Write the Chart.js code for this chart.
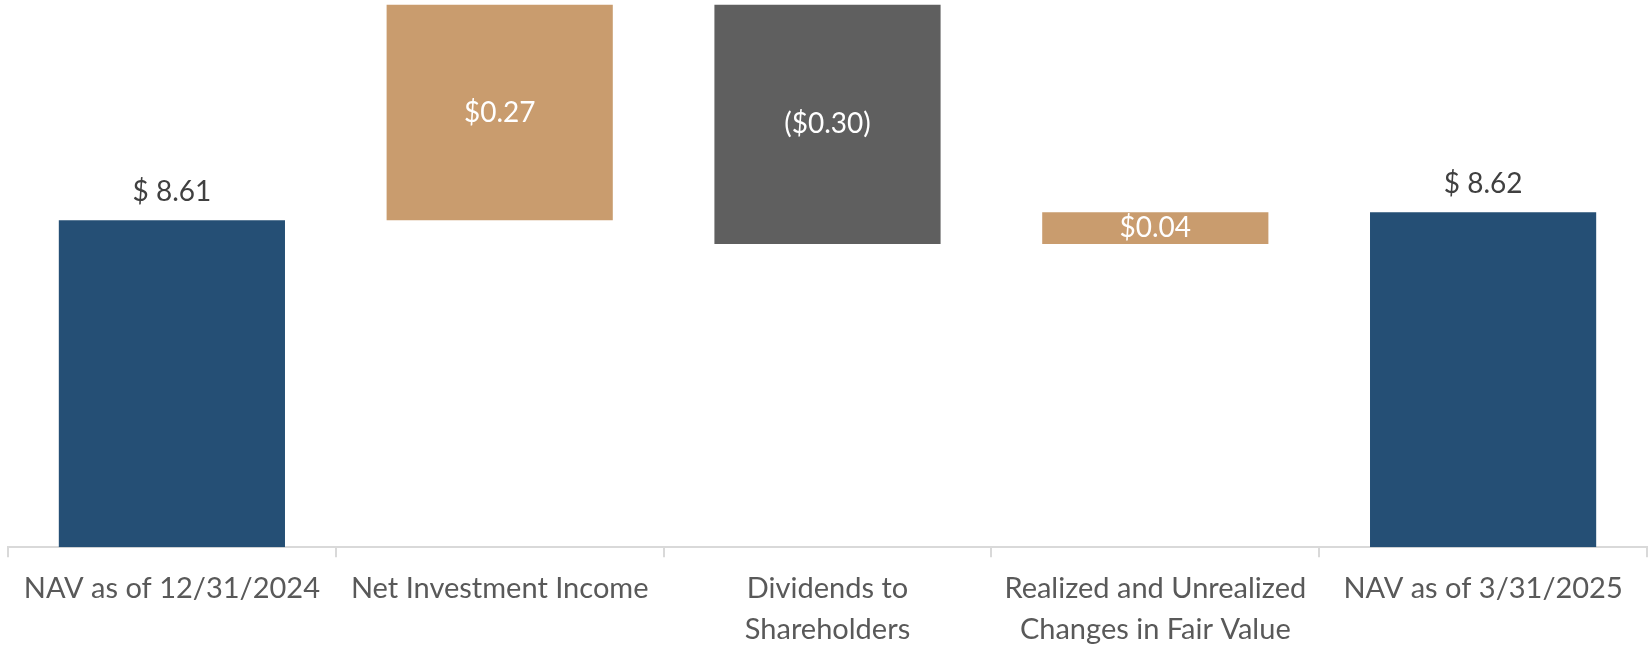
<!DOCTYPE html>
<html>
<head>
<meta charset="utf-8">
<title>NAV Bridge</title>
<script src="https://cdn.jsdelivr.net/npm/chart.js@4/dist/chart.umd.min.js"></script>
<style>
  html, body { margin: 0; padding: 0; background: #fff; }
  #wrap { width: 1652px; height: 648px; position: relative; }
</style>
</head>
<body>
<div id="wrap"><canvas id="nav"></canvas></div>
<script>
// NAV per share bridge, quarter ended 3/31/2025
const categories = [
  'NAV as of 12/31/2024',
  'Net Investment Income',
  ['Dividends to', 'Shareholders'],
  ['Realized and Unrealized', 'Changes in Fair Value'],
  'NAV as of 3/31/2025'
]
const startNav = 8.61
const changes = [0.27, -0.30, 0.04]
const endNav = 8.62
const axisMin = 8.20
const axisMax = 8.886

const BLUE = '#254f75'
const TAN = '#c99c6e'
const GRAY = '#5f5f5f'

// floating ranges: totals sit on the axis, changes float off the running total
const ranges = [[axisMin, startNav]]
const colors = [BLUE]
let running = startNav
changes.forEach(c => {
  const next = +(running + c).toFixed(2)
  ranges.push([Math.min(running, next), Math.max(running, next)])
  colors.push(c >= 0 ? TAN : GRAY)
  running = next
})
ranges.push([axisMin, endNav])
colors.push(BLUE)

const values = [startNav, ...changes, endNav]
const isTotal = [true, false, false, false, true]

function fmt(v, total) {
  if (total) return '$ ' + v.toFixed(2)
  return v < 0 ? '($' + Math.abs(v).toFixed(2) + ')' : '$' + v.toFixed(2)
}

const barLabels = {
  id: 'barLabels',
  afterDatasetsDraw(chart) {
    const ctx = chart.ctx
    const meta = chart.getDatasetMeta(0)
    ctx.save()
    ctx.font = '28px Lato'
    ctx.textAlign = 'center'
    ctx.textBaseline = 'middle'
    meta.data.forEach((bar, i) => {
      const text = fmt(values[i], isTotal[i])
      if (isTotal[i]) {
        ctx.fillStyle = '#404040'
        ctx.fillText(text, bar.x, bar.y - 28)
      } else {
        ctx.fillStyle = '#ffffff'
        ctx.fillText(text, bar.x, (bar.y + bar.base) / 2)
      }
    })
    ctx.restore()
  }
}

new Chart(document.getElementById('nav'), {
  type: 'bar',
  data: {
    labels: categories,
    datasets: [{
      data: ranges,
      backgroundColor: colors,
      borderWidth: 0,
      categoryPercentage: 1,
      barPercentage: 0.69
    }]
  },
  options: {
    responsive: true,
    maintainAspectRatio: false,
    animation: false,
    layout: { padding: { left: 8, right: 5, top: 0, bottom: -13 } },
    plugins: {
      legend: { display: false },
      tooltip: { enabled: false }
    },
    scales: {
      x: {
        offset: true,
        grid: {
          offset: true,
          drawOnChartArea: false,
          drawTicks: true,
          tickLength: 10,
          color: '#d9d9d9',
          lineWidth: 2
        },
        border: { display: true, color: '#d9d9d9', width: 2 },
        ticks: {
          color: '#595959',
          font: { family: 'Lato', size: 29, lineHeight: 1.41 },
          padding: 11,
          maxRotation: 0,
          autoSkip: false
        }
      },
      y: {
        display: false,
        min: axisMin,
        max: axisMax
      }
    }
  },
  plugins: [barLabels]
})
</script>
</body>
</html>
